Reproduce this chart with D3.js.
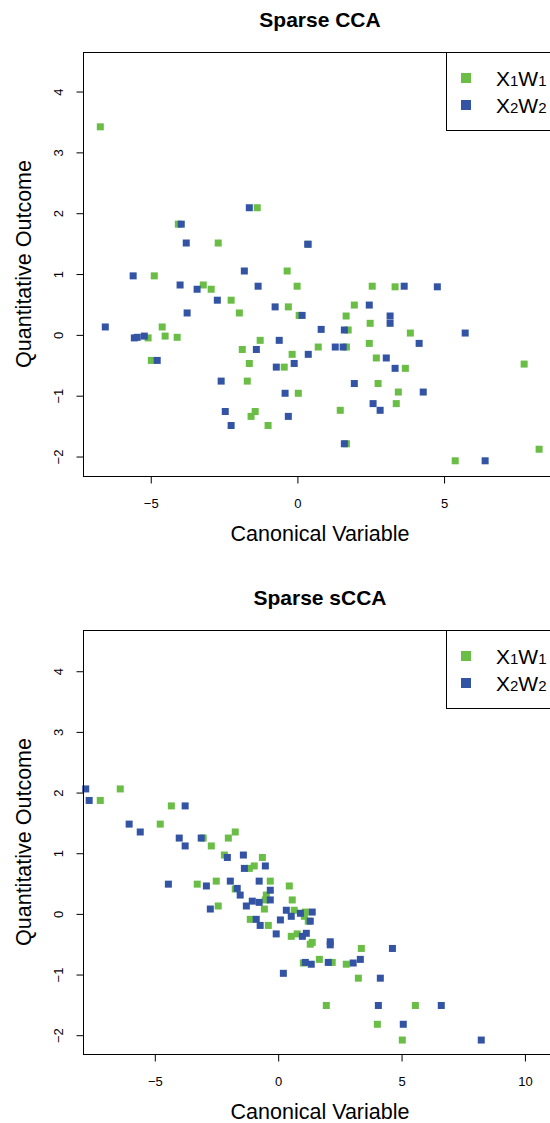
<!DOCTYPE html>
<html>
<head>
<meta charset="utf-8">
<script src="https://cdn.jsdelivr.net/npm/d3@7"></script>
<style>
  body { margin: 0; background: #fff; }
  text { font-family: "Liberation Sans", Arial, sans-serif; fill: #000; }
</style>
</head>
<body>
<div id="chart"></div>
<script>
/* Sparse CCA vs Sparse sCCA scatter panels */

// top panel: Sparse CCA, [canonical variable, outcome]
const ccaX1W1 = [
  [-6.72, 3.42], [-1.37, 2.09], [-4.06, 1.82], [-2.70, 1.51], [-0.35, 1.05], [-4.88, 0.97],
  [0.38, 1.49], [-3.21, 0.82], [-2.94, 0.75], [-0.01, 0.80], [-2.26, 0.57], [-0.31, 0.46],
  [-1.98, 0.36], [0.06, 0.32], [-4.61, 0.13], [-5.09, -0.05], [-4.51, -0.02], [-4.10, -0.04],
  [-1.27, -0.09], [-1.88, -0.24], [-0.18, -0.32], [-4.98, -0.42], [-1.64, -0.47], [-0.45, -0.53],
  [-1.71, -0.76], [0.03, -0.96], [2.55, 0.80], [3.33, 0.79], [1.94, 0.49], [1.66, 0.31],
  [2.48, 0.19], [1.73, 0.08], [3.85, 0.03], [0.71, -0.20], [1.67, -0.20], [2.45, -0.14],
  [2.69, -0.38], [3.68, -0.55], [7.73, -0.48], [2.75, -0.80], [3.44, -0.94], [3.37, -1.13],
  [1.46, -1.24], [1.67, -1.79], [8.24, -1.88], [5.38, -2.07], [-1.44, -1.26], [-1.58, -1.34],
  [-1.00, -1.49]
];
const ccaX2W2 = [
  [-1.64, 2.09], [-3.96, 1.82], [-3.79, 1.51], [-1.81, 1.05], [-5.60, 0.97], [0.35, 1.49],
  [-4.00, 0.82], [-3.42, 0.75], [-1.34, 0.80], [-2.73, 0.57], [-0.76, 0.46], [-3.76, 0.36],
  [0.16, 0.32], [-6.55, 0.13], [-5.56, -0.05], [-5.46, -0.04], [-5.22, -0.02], [-0.62, -0.09],
  [-1.40, -0.24], [-4.78, -0.42], [-0.11, -0.47], [-0.72, -0.53], [-2.60, -0.76], [-0.42, -0.96],
  [3.64, 0.80], [4.77, 0.79], [2.45, 0.49], [3.16, 0.31], [3.16, 0.19], [0.81, 0.09],
  [1.60, 0.08], [5.72, 0.03], [1.29, -0.20], [1.56, -0.20], [4.15, -0.14], [0.37, -0.32],
  [3.03, -0.38], [3.33, -0.55], [1.94, -0.80], [4.29, -0.94], [2.58, -1.13], [2.82, -1.24],
  [-0.31, -1.34], [1.60, -1.79], [6.40, -2.07], [-2.46, -1.26], [-2.26, -1.49]
];

// bottom panel: Sparse sCCA
const scaX1W1 = [
  [-6.40, 2.06], [-7.21, 1.87], [-4.33, 1.78], [-4.78, 1.48], [-1.74, 1.35], [-3.04, 1.25],
  [-2.02, 1.25], [-2.71, 1.12], [-2.18, 0.97], [-0.64, 0.93], [-1.17, 0.75], [-0.97, 0.79],
  [-3.28, 0.49], [-2.51, 0.54], [-0.32, 0.54], [0.45, 0.46], [-1.74, 0.41], [-0.48, 0.31],
  [-0.52, 0.23], [0.57, 0.23], [-0.56, 0.08], [-2.43, 0.13], [0.65, 0.06], [-1.13, -0.09],
  [-0.40, -0.19], [0.53, -0.37], [0.77, -0.33], [1.10, 0.03], [1.06, -0.04], [1.22, -0.12],
  [1.30, -0.50], [1.38, -0.47], [3.37, -0.57], [1.67, -0.75], [1.02, -0.81], [2.19, -0.80],
  [2.76, -0.83], [3.25, -1.06], [1.95, -1.51], [5.56, -1.51], [4.02, -1.82], [5.03, -2.08]
];
const scaX2W2 = [
  [-7.80, 2.06], [-7.66, 1.87], [-3.77, 1.78], [-6.04, 1.48], [-5.59, 1.35], [-4.01, 1.25],
  [-3.12, 1.25], [-3.77, 1.12], [-2.06, 0.93], [-1.41, 0.97], [-1.37, 0.75], [-0.52, 0.79],
  [-4.45, 0.49], [-2.91, 0.46], [-1.94, 0.54], [-0.77, 0.54], [-1.66, 0.42], [-0.32, 0.39],
  [-1.54, 0.31], [-0.32, 0.23], [-1.05, 0.21], [-0.77, 0.19], [-1.29, 0.13], [-2.75, 0.08],
  [0.33, 0.06], [0.53, -0.04], [-0.89, -0.09], [0.09, -0.10], [-0.73, -0.19], [-0.08, -0.33],
  [0.21, -0.98], [0.90, 0.01], [1.38, 0.03], [1.30, -0.12], [0.98, -0.37], [1.14, -0.32],
  [2.11, -0.46], [2.11, -0.51], [4.63, -0.57], [3.33, -0.75], [1.10, -0.80], [1.34, -0.83],
  [2.03, -0.80], [3.04, -0.81], [4.14, -1.06], [4.06, -1.51], [6.61, -1.51], [5.07, -1.82],
  [8.23, -2.08]
];

const yTicks = [-2, -1, 0, 1, 2, 3, 4];
const xTicksTop = [-5, 0, 5];
const xTicksBottom = [-5, 0, 5, 10];
const legendLabels = [["X", "1", "W", "1"], ["X", "2", "W", "2"]];
const colors = ["#6abd45", "#3353a4"];

const width = 550,
    height = 1123,
    left = 83,
    right = 557;

const svg = d3.select("#chart")
    .append("svg")
    .attr("width", width)
    .attr("height", height);

function panel(opt) {
    const g = svg.append("g");

    let x = d3.scaleLinear()
        .domain(opt.xDomain)
        .range([left, right]);

    let y = d3.scaleLinear()
        .domain(opt.yDomain)
        .range([opt.bottom, opt.top]);

    // points: green first, blue drawn on top
    [opt.green, opt.blue].forEach((pts, i) => {
        g.append("g")
          .selectAll("rect")
          .data(pts)
          .join("rect")
          .attr("x", d => x(d[0]) - 3.5)
          .attr("y", d => y(d[1]) - 3.5)
          .attr("width", 7)
          .attr("height", 7)
          .attr("fill", colors[i]);
    });

    // plot box
    g.append("rect")
      .attr("x", left + 0.5)
      .attr("y", opt.top + 0.5)
      .attr("width", right - left)
      .attr("height", opt.bottom - opt.top)
      .attr("fill", "none")
      .attr("stroke", "#000");

    const ya = g.append("g")
      .attr("transform", `translate(${left + 0.5},0)`)
      .call(d3.axisLeft(y).tickValues(yTicks).tickFormat(d3.format("d")).tickSize(7).tickSizeOuter(0));
    ya.select(".domain").remove();
    ya.selectAll("text")
      .attr("x", 0).attr("y", 0).attr("dy", "0.35em")
      .attr("text-anchor", "middle")
      .attr("transform", "translate(-25,0) rotate(-90)");

    const xa = g.append("g")
      .attr("transform", `translate(0,${opt.bottom + 0.5})`)
      .call(d3.axisBottom(x).tickValues(opt.xTicks).tickFormat(d3.format("d")).tickSize(7).tickPadding(15).tickSizeOuter(0));
    xa.select(".domain").remove();

    g.selectAll(".tick text")
      .attr("font-size", 13)
      .attr("font-family", "Liberation Sans, Arial, sans-serif");
    g.selectAll(".tick line").attr("stroke", "#000");

    // title and axis labels
    g.append("text")
      .attr("x", (left + right) / 2)
      .attr("y", opt.top - 25.5)
      .attr("text-anchor", "middle")
      .attr("font-weight", "bold")
      .attr("font-size", 21)
      .text(opt.title);

    g.append("text")
      .attr("x", (left + right) / 2)
      .attr("y", opt.bottom + 65)
      .attr("text-anchor", "middle")
      .attr("font-size", 21.5)
      .text("Canonical Variable");

    g.append("text")
      .attr("transform", `translate(31,${(opt.top + opt.bottom) / 2}) rotate(-90)`)
      .attr("text-anchor", "middle")
      .attr("font-size", 21.5)
      .text("Quantitative Outcome");

    // legend
    const lg = g.append("g").attr("transform", `translate(446,${opt.top})`);
    lg.append("rect")
      .attr("x", 0.5).attr("y", 0.5)
      .attr("width", 200).attr("height", 78)
      .attr("fill", "#fff")
      .attr("stroke", "#000");
    legendLabels.forEach((lab, i) => {
        lg.append("rect")
          .attr("x", 15).attr("y", 21 + i * 27)
          .attr("width", 10).attr("height", 10)
          .attr("fill", colors[i]);
        const t = lg.append("text")
          .attr("x", 50)
          .attr("y", 33.5 + i * 27)
          .attr("font-size", 21);
        lab.forEach((s, k) => {
            t.append("tspan")
              .attr("font-size", k % 2 ? 15 : 21)
              .text(s);
        });
    });
}

panel({
    title: "Sparse CCA",
    top: 52, bottom: 476,
    xDomain: [-7.31, 8.85], yDomain: [-2.32, 4.65],
    xTicks: xTicksTop,
    green: ccaX1W1, blue: ccaX2W2
});

panel({
    title: "Sparse sCCA",
    top: 630, bottom: 1054,
    xDomain: [-7.91, 11.3], yDomain: [-2.31, 4.68],
    xTicks: xTicksBottom,
    green: scaX1W1, blue: scaX2W2
});
</script>
</body>
</html>
